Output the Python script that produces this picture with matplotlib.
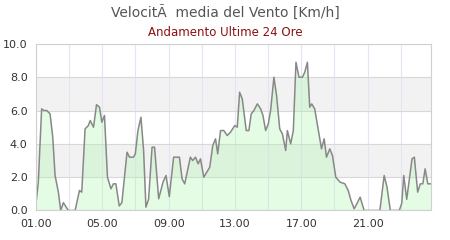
import matplotlib
matplotlib.use("Agg")
import matplotlib.pyplot as plt
import numpy as np

# ore (dalle 01.00) e velocita' media
ore = [1.0, 1.14, 1.34, 1.48, 1.65, 1.85, 2.01, 2.15, 2.35, 2.49, 2.65, 2.95, 3.36,
       3.62, 3.76, 3.96, 4.16, 4.27, 4.47, 4.65, 4.83, 4.97, 5.13, 5.31, 5.52, 5.67,
       5.82, 6.02, 6.18, 6.49, 6.64, 6.88, 6.99, 7.15, 7.33, 7.49, 7.63, 7.79, 8.0,
       8.15, 8.40, 8.66, 8.84, 9.04, 9.30, 9.65, 9.81, 9.97, 10.31, 10.45, 10.62,
       10.78, 10.92, 11.12, 11.48, 11.66, 11.83, 11.96, 12.13, 12.33, 12.53, 12.73,
       12.99, 13.14, 13.28, 13.44, 13.68, 13.84, 13.98, 14.14, 14.35, 14.55, 14.69,
       14.85, 15.01, 15.15, 15.35, 15.51, 15.70, 15.86, 16.06, 16.16, 16.36, 16.52,
       16.68, 16.86, 17.07, 17.21, 17.37, 17.51, 17.63, 17.81, 17.98, 18.22, 18.38,
       18.52, 18.72, 18.88, 19.08, 19.34, 19.63, 19.83, 19.99, 20.19, 20.35, 20.55,
       20.79, 21.74, 22.0, 22.17, 22.37, 22.91, 23.06, 23.18, 23.36, 23.68, 23.82,
       24.02, 24.18, 24.33, 24.47, 24.63, 24.83]
vento = [0.4, 1.7, 6.1, 6.0, 6.0, 5.8, 4.4, 2.1, 1.1, 0.0, 0.47, 0.0, 0.0,
         1.2, 1.1, 4.9, 5.1, 5.4, 5.0, 6.35, 6.2, 5.3, 5.7, 2.0, 1.3, 1.6,
         1.6, 0.27, 0.47, 3.5, 3.2, 3.2, 3.4, 4.8, 5.6, 3.6, 0.2, 0.67, 3.8,
         3.8, 0.7, 1.7, 2.1, 0.83, 3.2, 3.2, 1.9, 1.6, 3.2, 3.0, 3.2,
         2.8, 3.1, 2.0, 2.6, 3.9, 4.3, 3.4, 4.8, 4.8, 4.5, 4.7,
         5.1, 5.0, 7.1, 6.7, 4.8, 4.8, 5.8, 6.0, 6.4, 6.1, 5.7,
         4.8, 5.2, 6.0, 8.0, 6.9, 4.9, 4.6, 3.6, 4.8, 4.0, 4.8,
         8.9, 8.0, 8.0, 8.3, 8.9, 6.2, 6.4, 6.1, 5.1, 3.7, 4.3,
         3.2, 3.7, 3.3, 2.0, 1.7, 1.6, 1.2, 0.63, 0.1, 0.4, 0.8,
         0.0, 0.0, 2.1, 1.4, 0.0, 0.0, 0.43, 2.1, 0.67, 3.1, 3.2,
         1.1, 1.6, 1.6, 2.5, 1.6, 1.6]

tick_ore = [1, 5, 9, 13, 17, 21]
tick_lab = ["01.00", "05.00", "09.00", "13.00", "17.00", "21.00"]

fig = plt.figure(figsize=(4.5, 2.4), dpi=100)
ax = fig.add_axes([0.08, 0.123, 0.878, 0.694])

ax.set_xlim(1, 24.83)
ax.set_ylim(0, 10)

for y0 in [2, 6]:
    ax.axhspan(y0, y0 + 2, color="#f2f2f2", zorder=0, lw=0)

ax.set_xticks(tick_ore)
ax.set_xticklabels(tick_lab)
ax.set_xticks(np.arange(3, 25, 2), minor=True)
ax.set_yticks(np.arange(0, 11, 2))
ax.set_yticklabels(["%.1f" % v for v in np.arange(0, 11, 2)])
ax.grid(axis="x", which="both", color="#e4e4f6", lw=0.8, zorder=0.5)
ax.grid(axis="y", color="#d8d8d8", lw=0.8, zorder=0.5)
ax.tick_params(which="both", length=0, labelsize=8, colors="#333333", pad=6)
ax.set_axisbelow(True)

for s in ax.spines.values():
    s.set_color("#d0d0d0")
    s.set_linewidth(0.8)

ax.fill_between(ore, vento, 0, color="#a8f5a8", alpha=0.3, lw=0, zorder=1)
ax.plot(ore, vento, color="#888888", lw=1.1, zorder=2)

fig.text(0.5, 0.945, "VelocitÃ  media del Vento [Km/h]", ha="center", va="center",
         fontsize=10, color="#555555")
fig.text(0.5, 0.865, "Andamento Ultime 24 Ore", ha="center", va="center",
         fontsize=8.5, color="#8b1010")

fig.savefig("out.png", dpi=100)
